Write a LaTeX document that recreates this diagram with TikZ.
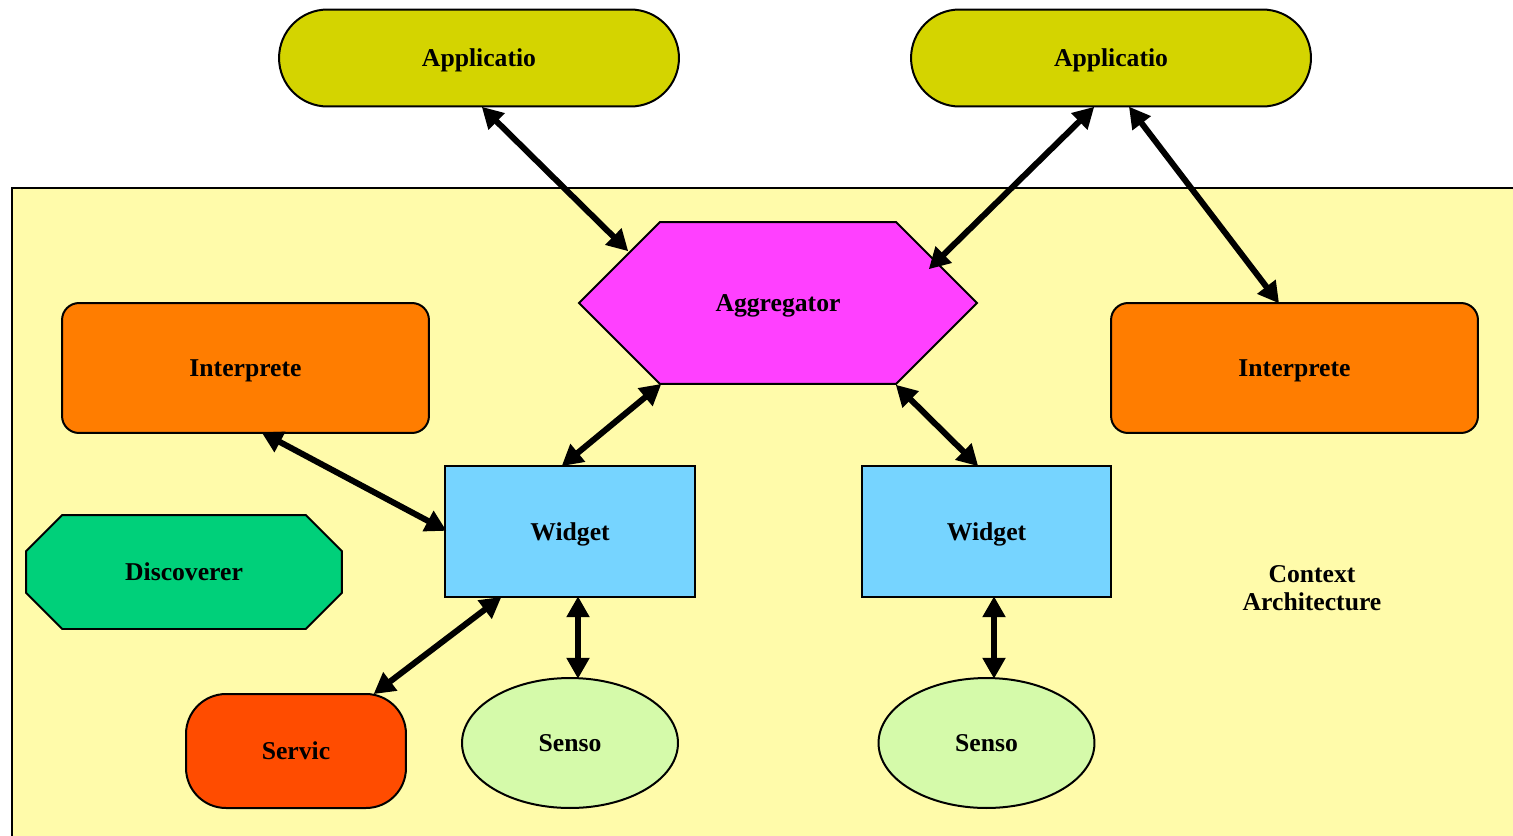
\documentclass[tikz,border=0pt]{standalone}
\usepackage{fontspec}
\setmainfont{Liberation Serif}
\usetikzlibrary{shapes.misc,shapes.geometric,shapes.symbols,arrows.meta,calc}
\definecolor{bgyel}{RGB}{255,251,170}
\definecolor{appc}{RGB}{212,212,0}
\definecolor{aggc}{RGB}{255,64,255}
\definecolor{intc}{RGB}{255,125,0}
\definecolor{widc}{RGB}{118,212,255}
\definecolor{disc}{RGB}{0,208,122}
\definecolor{serc}{RGB}{255,76,0}
\definecolor{senc}{RGB}{213,250,170}
\begin{document}
\begin{tikzpicture}[x=0.02cm,y=-0.02cm,
  every node/.style={font=\fontsize{14.6}{16}\selectfont\bfseries, inner sep=0pt, outer sep=0pt},
  box/.style={draw=black, line width=0.04cm, text height=9.9pt, text depth=0pt},
  appbox/.style={box, fill=appc, rectangle, rounded corners=0.97cm, minimum width=8cm, minimum height=1.94cm},
  intbox/.style={box, fill=intc, rectangle, rounded corners=0.34cm, minimum width=7.34cm, minimum height=2.6cm},
  widbox/.style={box, fill=widc, rectangle, minimum width=5cm, minimum height=2.62cm},
  senbox/.style={box, fill=senc, ellipse, minimum width=4.32cm, minimum height=2.6cm},
  biarrow/.style={line width=0.12cm, {Triangle[length=0.42cm,width=0.44cm]}-{Triangle[length=0.42cm,width=0.44cm]}, shorten <=-1pt, shorten >=-1pt}
]
\useasboundingbox (0,0) rectangle (1513,835);
\clip (0,0) rectangle (1513,835);
\draw[fill=bgyel, line width=0.04cm] (12,188) rectangle (1540,860);

\node[appbox] (app1) at (479,58) {Applicatio};
\node[appbox] (app2) at (1111,58) {Applicatio};
\node[box, fill=aggc, signal, signal to=west and east, signal pointer angle=90, minimum width=7.96cm, minimum height=3.24cm] (agg) at (778,303) {Aggregator};
\node[intbox] (int1) at (245.5,368) {Interprete};
\node[intbox] (int2) at (1294.5,368) {Interprete};
\node[widbox] (w1) at (570,531.5) {Widget};
\node[widbox] (w2) at (986.5,531.5) {Widget};
\node[box, fill=disc, chamfered rectangle, chamfered rectangle xsep=0.55cm, chamfered rectangle ysep=0.55cm, minimum width=6.32cm, minimum height=2.28cm] (disco) at (184,572) {Discoverer};
\node[box, fill=serc, rectangle, rounded corners=0.8cm, minimum width=4.4cm, minimum height=2.28cm] (serv) at (296,751) {Servic};
\node[senbox] (s1) at (570,743) {Senso};
\node[senbox] (s2) at (986.5,743) {Senso};
\node[align=center] (ctx) at (1312,588) {Context\\Architecture};

\draw[biarrow] ($(app1.center)+(4,50)$) -- ($(agg.center)+(-151,-53)$);
\draw[biarrow] ($(app2.center)+(-18,50)$) -- ($(agg.center)+(152,-35)$);
\draw[biarrow] ($(app2.center)+(19,50)$) -- ($(int2.center)+(-16.5,-66)$);
\draw[biarrow] ($(agg.center)+(-118,82)$) -- ($(w1.center)+(-7,-66.5)$);
\draw[biarrow] ($(agg.center)+(119,83)$) -- ($(w2.center)+(-9.5,-66.5)$);
\draw[biarrow] ($(int1.center)+(17.5,65)$) -- ($(w1.center)+(-125,-1.5)$);
\draw[biarrow] ($(w1.center)+(-70,66.5)$) -- ($(serv.center)+(79,-58)$);
\draw[biarrow] ($(w1.center)+(8,66.5)$) -- ($(s1.center)+(8,-66)$);
\draw[biarrow] ($(w2.center)+(7.5,66.5)$) -- ($(s2.center)+(7.5,-66)$);
\end{tikzpicture}
\end{document}
